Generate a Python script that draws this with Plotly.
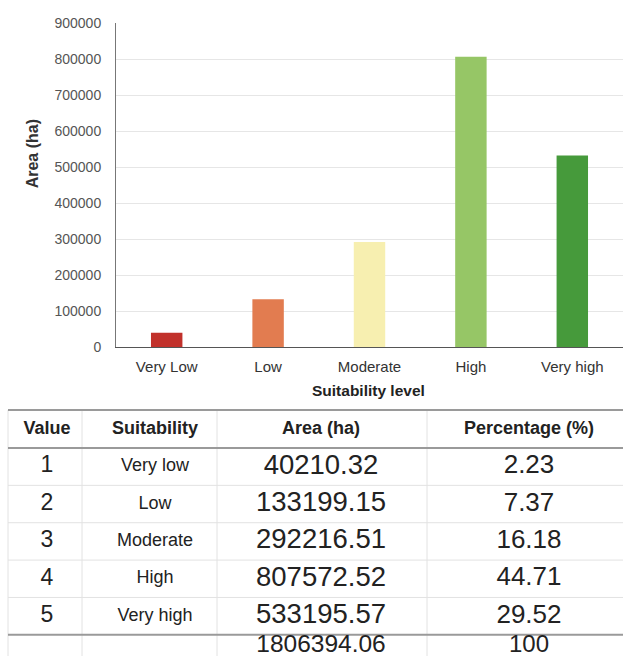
import plotly.graph_objects as go

W, H = 623, 664

# ---------------- data ----------------
categories = ["Very Low", "Low", "Moderate", "High", "Very high"]
table_values = [1, 2, 3, 4, 5]
table_suitability = ["Very low", "Low", "Moderate", "High", "Very high"]
areas = [40210.32, 133199.15, 292216.51, 807572.52, 533195.57]
percentages = [2.23, 7.37, 16.18, 44.71, 29.52]
total_area = 1806394.06
total_percentage = 100
headers = ["Value", "Suitability", "Area (ha)", "Percentage (%)"]
y_ticks = [0, 100000, 200000, 300000, 400000, 500000, 600000, 700000, 800000, 900000]
bar_colors = ["#c1312b", "#e27c50", "#f7efb0", "#96c666", "#469a3b"]

FONT = "Liberation Sans, Arial, sans-serif"


def fy(y):
    """page-pixel y -> figure-pixel y (compensates the observed vertical fit)"""
    return (y - 7.5) / 0.977


def py(y):
    """page-pixel y -> paper fraction"""
    return (H - fy(y)) / H


fig = go.Figure()

# ---------------- bar chart ----------------
fig.add_trace(go.Bar(
    x=categories, y=areas,
    marker=dict(color=bar_colors, line=dict(width=0)),
    width=0.31, showlegend=False, hoverinfo="x+y",
))

plot_left, plot_top, plot_bottom = 116, 23, 347
fig.update_layout(
    xaxis=dict(
        domain=[plot_left / W, 1.0],
        showline=True, linecolor="#555555", linewidth=1,
        showgrid=False, ticks="", tickfont=dict(size=15, color="#333333", family=FONT),
        ticklabelstandoff=6,
    ),
    yaxis=dict(
        domain=[py(plot_bottom), py(plot_top)],
        range=[0, 900000], tickvals=y_ticks, ticktext=[str(v) for v in y_ticks],
        showline=True, linecolor="#777777", linewidth=1,
        showgrid=True, gridcolor="#e6e6e6", gridwidth=1, zeroline=False,
        ticks="", tickfont=dict(size=14, color="#555555", family=FONT),
        ticklabelstandoff=11,
    ),
)

fig.add_annotation(
    text="<b>Area (ha)</b>", textangle=-90, xref="paper", yref="paper",
    x=32 / W, y=py(154), xanchor="center", yanchor="middle", showarrow=False,
    font=dict(size=16, color="#333333", family=FONT),
)
fig.add_annotation(
    text="<b>Suitability level</b>", xref="paper", yref="paper",
    x=368 / W, y=py(390), xanchor="center", yanchor="middle", showarrow=False,
    font=dict(size=15.5, color="#222222", family=FONT),
)

# ---------------- table (drawn on hidden pixel-scaled axes) ----------------
col_lines = [8, 82, 217, 427]
col_centers = [47, 155, 321, 529]
table_top, header_h, row_h = 410, 38, 37.4
header_bottom = table_top + header_h
total_top = header_bottom + row_h * len(table_values)

tx, ty, tt, ts = [], [], [], []
for c, h in enumerate(headers):
    tx.append(col_centers[c]); ty.append(fy(table_top + header_h / 2))
    tt.append("<b>" + h + "</b>"); ts.append(18)

row_sizes = [23, 18, 27.5, 26]
for i in range(len(table_values)):
    yc = fy(header_bottom + row_h * (i + 0.5))
    cells = [str(table_values[i]), table_suitability[i], f"{areas[i]:.2f}", f"{percentages[i]:.2f}"]
    for c, txt in enumerate(cells):
        tx.append(col_centers[c]); ty.append(yc); tt.append(txt); ts.append(row_sizes[c])

total_cells = ["", "", f"{total_area:.2f}", str(total_percentage)]
total_sizes = [23, 18, 24.5, 24]
for c, txt in enumerate(total_cells):
    if txt:
        tx.append(col_centers[c]); ty.append(fy(total_top + 11)); tt.append(txt); ts.append(total_sizes[c])

fig.add_trace(go.Scatter(
    x=tx, y=ty, text=tt, mode="text", textposition="middle center",
    textfont=dict(size=ts, color="#222222", family=FONT),
    xaxis="x2", yaxis="y2", showlegend=False, hoverinfo="skip", cliponaxis=False,
))

fig.update_layout(
    xaxis2=dict(domain=[0, 1], range=[0, W], visible=False, anchor="y2", fixedrange=True),
    yaxis2=dict(domain=[0, 1], range=[H, 0], visible=False, anchor="x2", fixedrange=True),
)

shapes = []
for xv in col_lines:
    shapes.append(dict(type="line", xref="x2", yref="y2", x0=xv, x1=xv, y0=fy(table_top), y1=H,
                       layer="below", line=dict(color="#e2e2e2", width=1)))
for k in range(1, len(table_values)):
    yv = fy(header_bottom + row_h * k)
    shapes.append(dict(type="line", xref="x2", yref="y2", x0=col_lines[0], x1=W, y0=yv, y1=yv,
                       layer="below", line=dict(color="#e2e2e2", width=1)))
for yv in [table_top, header_bottom, total_top]:
    shapes.append(dict(type="line", xref="x2", yref="y2", x0=col_lines[0], x1=W, y0=fy(yv), y1=fy(yv),
                       layer="below", line=dict(color="#9a9a9a", width=2)))

fig.update_layout(
    shapes=shapes,
    width=W, height=H,
    margin=dict(l=0, r=0, t=0, b=0),
    paper_bgcolor="white", plot_bgcolor="rgba(0,0,0,0)",
    font=dict(family=FONT),
    bargap=0.69,
)

fig.write_html(
    "out.html",
    config={"displayModeBar": False},
    post_script="document.body.style.margin='0';document.body.style.overflow='hidden';"
                "document.documentElement.style.overflow='hidden';",
)
